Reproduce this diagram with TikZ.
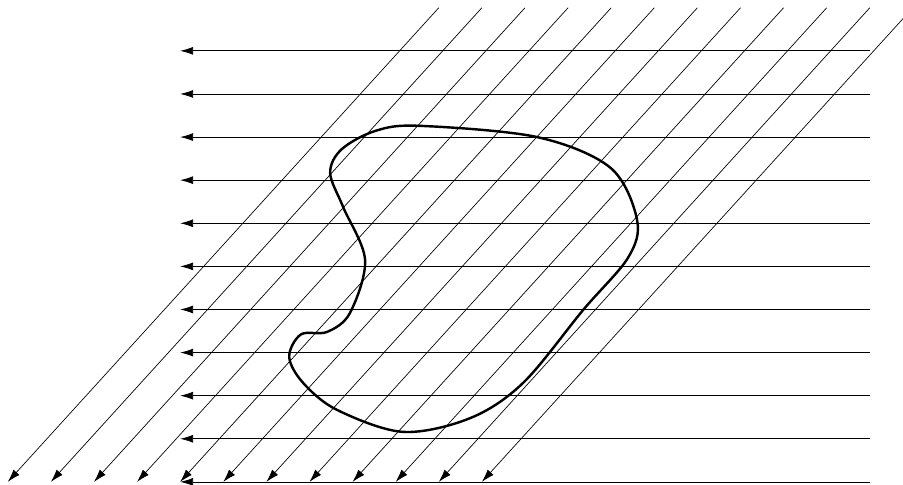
\documentclass[tikz,border=0pt]{standalone}
\usepackage{tikz}
\usetikzlibrary{arrows.meta}
\tikzset{
  hray/.style={line width=0.5pt,-{Latex[length=8.5pt,width=5.2pt]}},
  dray/.style={line width=0.45pt,-{Latex[length=8.5pt,width=5.2pt]}},
  blob/.style={line width=1.6pt}
}

\begin{document}
\begin{tikzpicture}
\useasboundingbox (-4.18,-0.05) rectangle (16.77,11.18);
\clip (-4.18,-0.05) rectangle (16.77,11.18);
\foreach \i in {0,...,10}{
  \coordinate (hs\i) at (16,\i);
  \coordinate (he\i) at (0,\i);
  \draw[hray] (hs\i) -- (he\i);
}
\foreach \k in {0,...,11}{
  \coordinate (ds\k) at (\k+6,11);
  \coordinate (de\k) at (\k-4,0);
  \draw[dray] (ds\k) -- (de\k);
}
\draw[blob] plot[smooth cycle,tension=0.55] coordinates {
  (5.57,8.26) (8.28,8.00) (9.98,7.29) (10.60,6.08) (10.39,5.20)
  (9.35,3.99) (7.96,2.30) (6.73,1.48) (5.17,1.16) (3.64,1.67)
  (2.85,2.30) (2.53,2.90) (2.80,3.42) (3.41,3.48) (3.94,3.92)
  (4.29,5.15) (3.78,6.38) (3.48,7.17) (3.75,7.72) (4.55,8.15)};
\end{tikzpicture}
\end{document}
